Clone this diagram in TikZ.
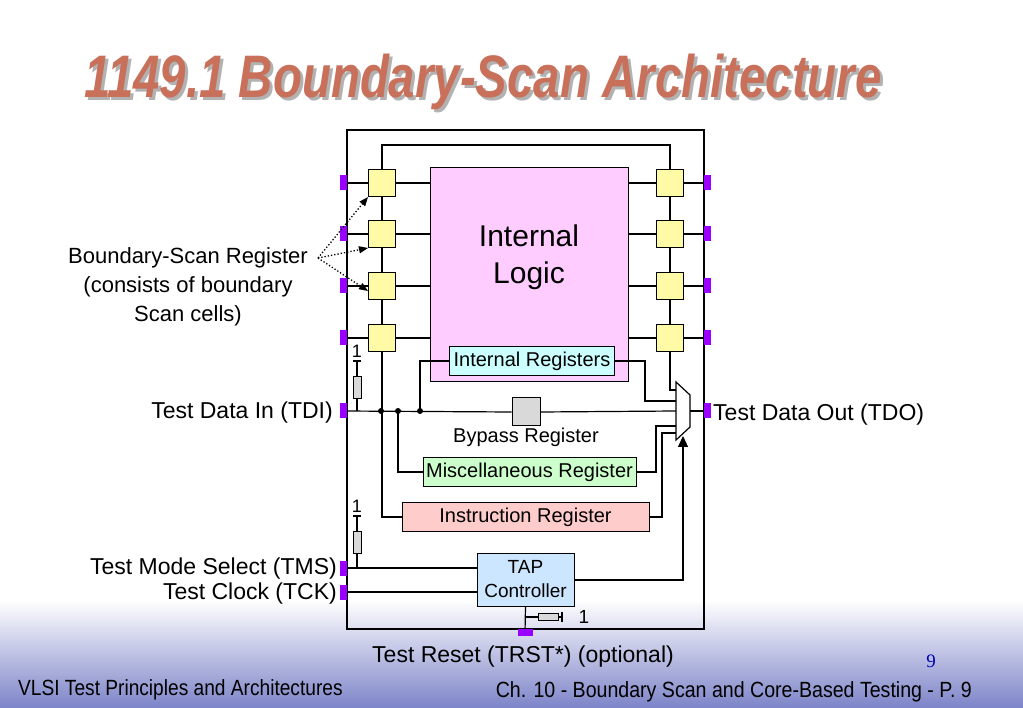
\documentclass[tikz,border=0pt]{standalone}
\usepackage{fontspec}
\setmainfont{Liberation Sans}
\newfontfamily\serifnum{Liberation Serif}
\usetikzlibrary{arrows.meta}
\definecolor{titlec}{HTML}{C8705A}
\definecolor{pinc}{HTML}{9900FF}
\begin{document}
\begin{tikzpicture}[x=1pt,y=-1pt,
  wire/.style={line width=1.2pt},
  cell/.style={draw,line width=1pt,fill=yellow!35,minimum size=27pt,inner sep=0pt},
  pin/.style={fill=pinc,minimum width=7pt,minimum height=15pt,inner sep=0pt},
  reg/.style={draw,line width=1pt,inner sep=0pt,font=\fontsize{20}{23}\selectfont},
  lbl/.style={font=\fontsize{23}{27}\selectfont,inner sep=0pt},
  dot/.style={circle,fill,inner sep=0pt,minimum size=6pt},
  res/.style={draw,line width=0.8pt,fill=gray!30,inner sep=0pt}]
\useasboundingbox (0,0) rectangle (1023,708);
\shade[top color=white,bottom color={rgb,255:red,125;green,132;blue,200}] (0,600) rectangle (1023,708);
% title
\node[text=gray!60,font=\fontsize{60}{66}\bfseries\itshape\selectfont,xscale=0.79] at (486,85) {1149.1 Boundary-Scan Architecture};
\node (title)[text=titlec,font=\fontsize{60}{66}\bfseries\itshape\selectfont,xscale=0.79] at (483,82) {1149.1 Boundary-Scan Architecture};
% chip
\draw[wire] (347,130) rectangle (704,629);
\node (logic)[draw,line width=1pt,fill={rgb,255:red,255;green,204;blue,255},minimum width=198pt,minimum height=214pt,inner sep=0pt] at (529,275) {};
\node[lbl,font=\fontsize{30}{37}\selectfont,align=center] at (529,257) {Internal\\Logic};
% top chain
\draw[wire] (382,183) -- (382,145) -- (670,145) -- (670,183);
\foreach \i/\y in {1/183,2/234,3/286,4/338}{
  \draw[wire] (347,\y) -- (430,\y);
  \draw[wire] (628,\y) -- (704,\y);
}
\draw[wire] (382,183) -- (382,517) -- (402,517);
\draw[wire] (670,183) -- (670,390) -- (676,390);
\foreach \i/\y in {1/183,2/234,3/286,4/338}{
  \node (L\i)[cell] at (382,\y) {};
  \node (R\i)[cell] at (670,\y) {};
  \node (PL\i)[pin] at (343.5,\y) {};
  \node (PR\i)[pin] at (707.5,\y) {};
}
% internal registers
\node (ireg)[reg,fill={rgb,255:red,204;green,255;blue,255},minimum width=165pt,minimum height=29pt] at (532,361) {Internal Registers};
\draw[wire] (ireg.west) -- (420,361) -- (420,411);
\draw[wire] (ireg.east) -- (645,361) -- (645,401) -- (676,401);
% TDI path
\node (tdi)[pin] at (343.5,411) {};
\node (tdo)[pin] at (707.5,411) {};
\node (byp)[reg,fill=gray!30,minimum size=28pt] at (526,412) {};
\draw[wire] (tdi) -- (byp.west);
\draw[wire] (byp.east) -- (676,411);
\draw[wire] (690,411) -- (tdo);
\node[dot] at (381,411) {};
\node[dot] at (398,411) {};
\node[dot] at (420,411) {};
\node[lbl,font=\fontsize{20}{23}\selectfont] at (526,437) {Bypass Register};
% mux
\draw[wire,fill=white] (676,382) -- (690,395) -- (690,427) -- (676,440) -- cycle;
% misc
\node (misc)[reg,fill={rgb,255:red,204;green,255;blue,204},minimum width=213pt,minimum height=29pt] at (529.5,472) {Miscellaneous Register};
\draw[wire] (398,411) -- (398,472) -- (misc.west);
\draw[wire] (misc.east) -- (656,472) -- (656,426) -- (676,426);
% instruction
\node (inst)[reg,fill={rgb,255:red,255;green,204;blue,204},minimum width=247pt,minimum height=29pt] at (525.5,517) {Instruction Register};
\draw[wire] (inst.east) -- (662,517) -- (662,433) -- (676,433);
% resistors
\node[lbl,font=\fontsize{18}{20}\selectfont] at (357,351) {1};
\draw[wire] (353,361) -- (361,361) (357,361) -- (357,411);
\node[res,minimum width=8pt,minimum height=22pt] at (357,387) {};
\node[lbl,font=\fontsize{18}{20}\selectfont] at (357,506) {1};
\draw[wire] (353,516) -- (361,516) (357,516) -- (357,568);
\node[res,minimum width=8pt,minimum height=22pt] at (357,542) {};
% TAP
\node (tap)[reg,fill={rgb,255:red,204;green,230;blue,255},minimum width=97pt,minimum height=53pt,align=center,font=\fontsize{19}{24}\selectfont] at (525.5,579.5) {TAP\\Controller};
\node (tms)[pin] at (343.5,568) {};
\node (tck)[pin] at (343.5,592) {};
\draw[wire] (tms) -- (tms -| tap.west);
\draw[wire] (tck) -- (tck -| tap.west);
\draw[wire,-{Triangle[length=11pt,width=10pt]}] (574,580) -- (683,580) -- (683,436);
\node (trst)[pin,minimum width=15pt,minimum height=7pt] at (525,632.5) {};
\draw[wire] (trst) -- (tap.south);
\draw[wire] (525,617) -- (562,617) (562,612) -- (562,622);
\node[res,minimum width=20pt,minimum height=7pt] at (548,617) {};
\node[lbl,font=\fontsize{19}{21}\selectfont] at (584,617) {1};
% labels
\node (bsr)[lbl,font=\fontsize{22}{29}\selectfont,align=center] at (188,287) {Boundary-Scan Register\\(consists of boundary\\Scan cells)};
\coordinate (bsrp) at (318,258);
\draw[line width=1.3pt,dotted,-{Triangle[length=9pt,width=7pt]}] (bsrp) -- (L1.south west);
\draw[line width=1.3pt,dotted,-{Triangle[length=9pt,width=7pt]}] (bsrp) -- (L2.south west);
\draw[line width=1.3pt,dotted,-{Triangle[length=9pt,width=7pt]}] (bsrp) -- ([yshift=-5pt]L3.west);
\node[lbl,anchor=east] at (333,413) {Test Data In (TDI)};
\node[lbl,anchor=west] at (713,415) {Test Data Out (TDO)};
\node[lbl,anchor=east] at (337,569) {Test Mode Select (TMS)};
\node[lbl,anchor=east] at (337,594) {Test Clock (TCK)};
\node[lbl,anchor=west] at (372,657) {Test Reset (TRST*) (optional)};
\node[text=blue!70!black,font=\serifnum\fontsize{19}{21}\selectfont] at (931,661) {9};
\node[anchor=west,font=\fontsize{22}{24}\selectfont,xscale=0.87,inner sep=0pt] at (18,690) {VLSI Test Principles and Architectures};
\node[anchor=east,font=\fontsize{22}{24}\selectfont,xscale=0.89,inner sep=0pt] at (972,692) {Ch. 10 - Boundary Scan and Core-Based Testing - P. 9};
\end{tikzpicture}
\end{document}
